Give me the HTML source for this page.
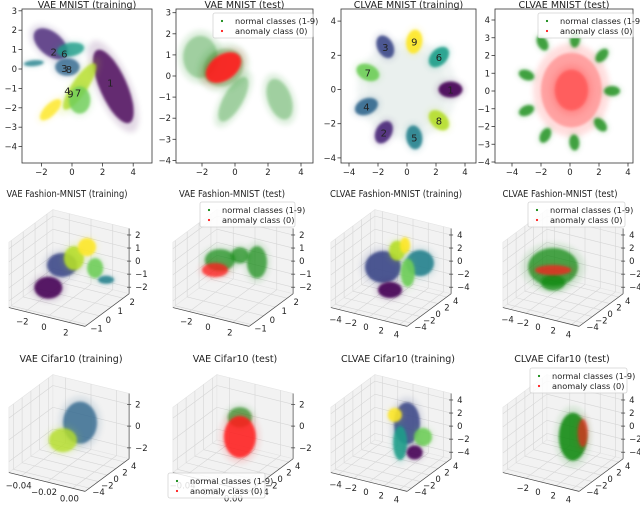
<!DOCTYPE html>
<html><head><meta charset="utf-8">
<style>
html,body{margin:0;padding:0;background:#fff;}
svg{display:block;font-family:"DejaVu Sans","Liberation Sans",sans-serif;}
</style></head>
<body>
<svg id="fig" width="640" height="510" viewBox="0 0 640 510" xmlns="http://www.w3.org/2000/svg">
<defs>
<filter id="soft" x="-50%" y="-50%" width="200%" height="200%"><feGaussianBlur stdDeviation="1.3"/></filter>
<filter id="halo" x="-80%" y="-80%" width="260%" height="260%"><feGaussianBlur stdDeviation="3"/></filter>
</defs>
</svg>
<script>
// ---------- DATA ----------
const classColors=['#440154','#482878','#3e4989','#31688e','#26828e','#1f9e89','#35b779','#6ece58','#b5de2b','#fde725'];
// Panel 1: VAE MNIST (training)
const vaeMnistTrainX=[2.7,-1.4,-0.1,-2.5,-0.3,0.5,-1.4,0.5];
const vaeMnistTrainY=[-0.9,1.3,1.0,0.3,0.1,-0.9,-2.1,-1.6];
const vaeMnistTrainClass=[0,1,5,4,3,8,9,7];
const vaeMnistTrainSpreadX=[2.6,1.3,0.9,0.65,0.8,1.8,0.9,0.7];
const vaeMnistTrainSpreadY=[0.7,0.6,0.35,0.15,0.45,0.4,0.3,0.7];
const vaeMnistTrainAngle=[66,40,-10,-5,0,-56,-45,0];
const vaeMnistLabelText=['2','6','3','8','4','9','7','1'];
const vaeMnistLabelX=[-1.2,-0.5,-0.5,-0.2,-0.3,-0.1,0.4,2.5];
const vaeMnistLabelY=[0.9,0.8,0.05,0.0,-1.1,-1.25,-1.2,-0.7];
// Panel 2: VAE MNIST (test)
const vaeMnistTestX=[-2.1,-0.1,2.7,-0.7,-0.7];
const vaeMnistTestY=[0.9,-1.1,-1.1,0.4,0.4];
const vaeMnistTestIsAnomaly=[0,0,0,0,1];
const vaeMnistTestSpreadX=[1.3,1.9,1.6,1.6,1.2];
const vaeMnistTestSpreadY=[1.0,0.45,0.55,0.85,0.6];
const vaeMnistTestAngle=[0,-60,70,-35,-35];
// Panel 3: CLVAE MNIST (training)
const clvaeMnistTrainLabel=['3','9','6','1','8','5','2','4','7'];
const clvaeMnistTrainX=[-1.5,0.5,2.2,3.0,2.2,0.5,-1.6,-2.8,-2.7];
const clvaeMnistTrainY=[2.5,2.8,1.9,0.0,-1.8,-2.8,-2.5,-1.0,1.0];
const clvaeMnistTrainClass=[2,9,5,0,8,4,1,3,7];
// Panel 4: CLVAE MNIST (test)
const clvaeMnistTestX=[-1.9,0.35,2.2,2.9,2.1,0.3,-1.7,-3.0,-3.0];
const clvaeMnistTestY=[2.7,2.9,2.0,0.0,-1.9,-2.9,-2.5,-1.1,0.9];
const clvaeMnistAnomalyX=[0.1];
const clvaeMnistAnomalyY=[0.05];
const clvaeMnistAnomalyR=[2.1];
// 3D panels
const fmnistVaeTrainX=[-1.9,-0.64,0.46,1.65,2.4,3.4];
const fmnistVaeTrainZ=[-1.9,0.1,0.85,1.94,0.49,-0.2];
const fmnistVaeTrainClass=[0,2,8,9,7,4];
const fmnistVaeTrainSize=[[14,11],[15,12],[10,12],[9,9],[8,10],[8,4]];
const fmnistVaeTestX=[-1.2,2.2,0.64,-1.65];
const fmnistVaeTestZ=[0.36,0.9,1.1,-0.5];
const fmnistVaeTestIsAnomaly=[0,0,0,1];
const fmnistVaeTestSize=[[15,11],[10,16],[9,8],[13,7]];
const fmnistClvaeTrainX=[-1.05,-0.13,0.8,1.84,3.8,2.2];
const fmnistClvaeTrainZ=[-0.15,-3.4,2.9,4.0,1.85,-0.1];
const fmnistClvaeTrainClass=[2,0,8,9,4,7];
const fmnistClvaeTrainSize=[[18,16],[12,8],[8,10],[5,8],[14,13],[7,14]];
const fmnistClvaeTestX=[-1.3,-1.3,-1.3];
const fmnistClvaeTestZ=[-0.23,-2.6,-0.7];
const fmnistClvaeTestIsAnomaly=[0,0,1];
const fmnistClvaeTestSize=[[25,19],[12,8],[18,5]];
const cifarVaeTrainX=[-0.0113,-0.0248];
const cifarVaeTrainZ=[1.2,-0.8];
const cifarVaeTrainClass=[3,8];
const cifarVaeTrainSize=[[17,21],[14,12]];
const cifarVaeTestX=[-0.0146,-0.0146];
const cifarVaeTestZ=[1.6,-0.2];
const cifarVaeTestIsAnomaly=[0,1];
const cifarVaeTestSize=[[12,10],[16,21]];
const cifarClvaeTrainX=[2.1,0.5,4.2,1.2,3.1];
const cifarClvaeTrainZ=[2.1,2.9,0.6,-1.2,-2.1];
const cifarClvaeTrainClass=[2,9,7,5,0];
const cifarClvaeTrainSize=[[13,21],[7,7],[9,9],[7,17],[8,7]];
const cifarClvaeTestX=[1.3,2.6];
const cifarClvaeTestZ=[-0.2,0.75];
const cifarClvaeTestIsAnomaly=[0,1];
const cifarClvaeTestSize=[[14,24],[5,14]];

// ---------- RENDER ----------
const NS='http://www.w3.org/2000/svg';
const svg=document.getElementById('fig');
function mk(tag,attrs,parent){const e=document.createElementNS(NS,tag);for(const k in attrs)e.setAttribute(k,attrs[k]);(parent||svg).appendChild(e);return e;}
function txt(s,x,y,size,anchor,parent){const t=mk('text',{x:x,y:y,'font-size':size,'text-anchor':anchor||'middle',fill:'#222'},parent);t.textContent=s;return t;}
const GREEN='#118811', RED='#ff1a1a';

function blob(g,sx,sy,rx,ry,rot,color,core){
  const h=mk('ellipse',{cx:sx,cy:sy,rx:rx*1.25,ry:ry*1.25,fill:color,opacity:0.15,filter:'url(#halo)',transform:`rotate(${rot} ${sx} ${sy})`},g);
  
  
  const c=mk('ellipse',{cx:sx,cy:sy,rx:rx,ry:ry,fill:color,opacity:core,filter:'url(#soft)',transform:`rotate(${rot} ${sx} ${sy})`},g);
  
  
}
function fmtTick(v,dec){let s=v.toFixed(dec||0);if(v<0)s='\u2212'+s.slice(1);return s;}

function axes2d(P,name){
  const g=mk('g',{});
  
  
  const [l,t,r,b]=P.box;
  const ttl=txt(P.title,(l+r)/2,8,9.5,'middle',g);
  
  
  const plot=mk('g',{},g);
  
  
  const fr=mk('rect',{x:l,y:t,width:r-l,height:b-t,fill:'none',stroke:'#333','stroke-width':0.8},g);
  
  
  P.yt.forEach(v=>{const y=P.y0-P.ky*v;mk('line',{x1:l-3.5,x2:l,y1:y,y2:y,stroke:'#333','stroke-width':0.8},g);
    const lb=txt(fmtTick(v),l-5,y+3,8.5,'end',g);
    
    });
  P.xt.forEach(v=>{const x=P.x0+P.kx*v;mk('line',{x1:x,x2:x,y1:b,y2:b+3.5,stroke:'#333','stroke-width':0.8},g);
    const lb=txt(fmtTick(v),x,b+12,8.5,'middle',g);
    
    });
  return plot;
}
function legend(x,y,w){
  const g=mk('g',{});
  
  
  mk('rect',{x:x,y:y,width:w,height:25,fill:'#fff',opacity:0.85,stroke:'#ccc','stroke-width':0.8,rx:2},g);
  const d1=mk('circle',{cx:x+9,cy:y+8,r:1.1,fill:GREEN},g);
  
  
  const t1=txt('normal classes (1-9)',x+22,y+11,8.2,'start',g);
  
  
  const d2=mk('circle',{cx:x+9,cy:y+18,r:1.1,fill:RED},g);
  
  
  const t2=txt('anomaly class (0)',x+22,y+21,8.2,'start',g);
  
  
}

// Panel 1
const P1={box:[22,9,152,163],x0:72,kx:15.3,y0:69,ky:19.4,xt:[-2,0,2,4],yt:[3,2,1,0,-1,-2,-3,-4],title:'VAE MNIST (training)'};
let g=axes2d(P1,'panel-vae-mnist-training');
vaeMnistTrainX.forEach((v,i)=>blob(g,P1.x0+P1.kx*v,P1.y0-P1.ky*vaeMnistTrainY[i],vaeMnistTrainSpreadX[i]*P1.kx,vaeMnistTrainSpreadY[i]*P1.ky,vaeMnistTrainAngle[i],classColors[vaeMnistTrainClass[i]],0.8));
vaeMnistLabelText.forEach((s,i)=>{const t=txt(s,P1.x0+P1.kx*vaeMnistLabelX[i],P1.y0-P1.ky*vaeMnistLabelY[i]+4,10,'middle',g);
  
  });

// Panel 2
const P2={box:[176,9,313,163],x0:235,kx:16.5,y0:76,ky:21.1,xt:[-2,0,2,4],yt:[3,2,1,0,-1,-2,-3,-4],title:'VAE MNIST (test)'};
g=axes2d(P2,'panel-vae-mnist-test');
vaeMnistTestX.forEach((v,i)=>{const an=vaeMnistTestIsAnomaly[i];blob(g,P2.x0+P2.kx*v,P2.y0-P2.ky*vaeMnistTestY[i],vaeMnistTestSpreadX[i]*P2.kx*(an?1:0.8),vaeMnistTestSpreadY[i]*P2.ky,vaeMnistTestAngle[i],an?RED:GREEN,an?0.9:0.28);});
legend(213,13,100);

// Panel 3
const P3={box:[341,9,476,163],x0:407,kx:14.5,y0:89.5,ky:17.1,xt:[-4,-2,0,2,4],yt:[4,2,0,-2,-4],title:'CLVAE MNIST (training)'};
g=axes2d(P3,'panel-clvae-mnist-training');
blob(g,P3.x0,P3.y0,40,40,0,'#9ab8b0',0.05);
clvaeMnistTrainX.forEach((v,i)=>{const sx=P3.x0+P3.kx*v,sy=P3.y0-P3.ky*clvaeMnistTrainY[i];const rot=Math.atan2(sy-P3.y0,sx-P3.x0)*180/Math.PI;
  blob(g,sx,sy,12,8,rot,classColors[clvaeMnistTrainClass[i]],0.9);
  const t=txt(clvaeMnistTrainLabel[i],sx,sy+4,10,'middle',g);
  
  });

// Panel 4
const P4={box:[495,9,633,163],x0:570,kx:14.5,y0:91,ky:17.75,xt:[-4,-2,0,2,4],yt:[4,3,2,1,0,-1,-2,-3,-4],title:'CLVAE MNIST (test)'};
g=axes2d(P4,'panel-clvae-mnist-test');
clvaeMnistAnomalyX.forEach((v,i)=>{blob(g,P4.x0+P4.kx*v,P4.y0-P4.ky*clvaeMnistAnomalyY[i],clvaeMnistAnomalyR[i]*P4.kx,clvaeMnistAnomalyR[i]*P4.ky,0,RED,0.3);
  blob(g,P4.x0+P4.kx*v,P4.y0-P4.ky*clvaeMnistAnomalyY[i],clvaeMnistAnomalyR[i]*P4.kx*0.55,clvaeMnistAnomalyR[i]*P4.ky*0.55,0,RED,0.4);});
clvaeMnistTestX.forEach((v,i)=>{const sx=P4.x0+P4.kx*v,sy=P4.y0-P4.ky*clvaeMnistTestY[i];const rot=Math.atan2(sy-P4.y0,sx-P4.x0)*180/Math.PI;
  blob(g,sx,sy,8,5,rot,GREEN,0.75);});
legend(538,13,95);

// ---------- 3D ----------
function proj(P,nx,ny,nz){return [P.cx+P.kx*(0.866*nx+0.5*ny),P.cy-P.ky*(0.866*nz-0.25*nx+0.433*ny)];}
function norm(v,lim){return 2*(v-lim[0])/(lim[1]-lim[0])-1;}
function axes3d(P,name){
  const g=mk('g',{});
  
  
  const ttl=txt(P.title,P.tx,P.ty,9.5,'middle',g);
  if(P.tw){ttl.setAttribute('textLength',P.tw);ttl.setAttribute('lengthAdjust','spacingAndGlyphs');}
  
  
  const poly=pts=>pts.map(p=>proj(P,p[0],p[1],p[2]).join(',')).join(' ');
  const panes=[[[-1,-1,-1],[-1,1,-1],[-1,1,1],[-1,-1,1]],[[-1,1,-1],[1,1,-1],[1,1,1],[-1,1,1]],[[-1,-1,-1],[1,-1,-1],[1,1,-1],[-1,1,-1]]];
  panes.forEach(p=>{const pe=mk('polygon',{points:poly(p),fill:'#f2f2f2',stroke:'#e4e4e4','stroke-width':0.6},g);
    
    });
  const line=(a,b,c,w)=>{const p=proj(P,...a),q=proj(P,...b);mk('line',{x1:p[0],y1:p[1],x2:q[0],y2:q[1],stroke:c,'stroke-width':w},g);};
  const gc='#d6d6d6';
  P.xt.forEach(v=>{const n=norm(v,P.xl);line([n,-1,-1],[n,1,-1],gc,0.6);line([n,1,-1],[n,1,1],gc,0.6);
    const p=proj(P,n,-1,-1);const t=txt(fmtTick(v,P.xdec),p[0]-3,p[1]+13,8.5,'middle',g);
    
    });
  P.yt.forEach(v=>{const n=norm(v,P.yl);line([-1,n,-1],[1,n,-1],gc,0.6);line([-1,n,-1],[-1,n,1],gc,0.6);
    const p=proj(P,1,n,-1);const t=txt(fmtTick(v),p[0]+9,p[1]+7,8.5,'middle',g);
    
    });
  P.zt.forEach(v=>{const n=norm(v,P.zl);line([-1,-1,n],[-1,1,n],gc,0.6);line([-1,1,n],[1,1,n],gc,0.6);
    const p=proj(P,1,1,n);mk('line',{x1:p[0]-2,x2:p[0]+2,y1:p[1],y2:p[1],stroke:'#333','stroke-width':0.7},g);
    const t=txt(fmtTick(v),p[0]+6,p[1]+3,8.5,'start',g);
    
    });
  line([-1,-1,-1],[1,-1,-1],'#444',0.7);
  line([1,-1,-1],[1,1,-1],'#444',0.7);
  line([1,1,-1],[1,1,1],'#444',0.7);
  const plot=mk('g',{},g);
  
  
  return plot;
}
function draw3d(P,name,X,Z,size,colorOf,op){
  const g=axes3d(P,name);
  X.forEach((v,i)=>{const p=proj(P,norm(v,P.xl),0,norm(Z[i],P.zl));blob(g,p[0],p[1],size[i][0],size[i][1],0,colorOf(i),op(i));});
}
const K={kx:44,ky:37.7};
const cols=[69,233,391,563];
draw3d({cx:cols[0],cy:268,...K,xl:[-3.5,3.5],yl:[-1.2,2.5],zl:[-2.5,2.5],xt:[-2,0,2],yt:[-1,0,1,2],zt:[-2,-1,0,1,2],title:'VAE Fashion-MNIST (training)',tx:67,ty:197,tw:121},
  'panel-vae-fmnist-training',fmnistVaeTrainX,fmnistVaeTrainZ,fmnistVaeTrainSize,i=>classColors[fmnistVaeTrainClass[i]],i=>0.88);
draw3d({cx:cols[1],cy:268,...K,xl:[-3.5,3.5],yl:[-1.2,2.5],zl:[-2.5,2.5],xt:[-2,0,2],yt:[-1,0,1,2],zt:[-2,-1,0,1,2],title:'VAE Fashion-MNIST (test)',tx:232,ty:197,tw:106},
  'panel-vae-fmnist-test',fmnistVaeTestX,fmnistVaeTestZ,fmnistVaeTestSize,i=>fmnistVaeTestIsAnomaly[i]?RED:GREEN,i=>fmnistVaeTestIsAnomaly[i]?0.75:0.65);
legend(200,202,95);
draw3d({cx:cols[2],cy:268,...K,xl:[-5,5],yl:[-5,5],zl:[-5,5],xt:[-4,-2,0,2,4],yt:[-4,-2,0,2,4],zt:[-4,-2,0,2,4],title:'CLVAE Fashion-MNIST (training)',tx:396,ty:197,tw:132},
  'panel-clvae-fmnist-training',fmnistClvaeTrainX,fmnistClvaeTrainZ,fmnistClvaeTrainSize,i=>classColors[fmnistClvaeTrainClass[i]],i=>0.9);
draw3d({cx:cols[3],cy:268,...K,xl:[-5,5],yl:[-5,5],zl:[-5,5],xt:[-4,-2,0,2,4],yt:[-4,-2,0,2,4],zt:[-4,-2,0,2,4],title:'CLVAE Fashion-MNIST (test)',tx:560,ty:197,tw:115},
  'panel-clvae-fmnist-test',fmnistClvaeTestX,fmnistClvaeTestZ,fmnistClvaeTestSize,i=>fmnistClvaeTestIsAnomaly[i]?RED:GREEN,i=>0.7);
legend(528,202,97);
draw3d({cx:cols[0],cy:433,...K,xl:[-0.05,0.01],yl:[-5,5],zl:[-3,3],xt:[-0.04,-0.02,0.00],xdec:2,yt:[-4,-2,0,2,4],zt:[-2,0,2],title:'VAE Cifar10 (training)',tx:71,ty:362},
  'panel-vae-cifar-training',cifarVaeTrainX,cifarVaeTrainZ,cifarVaeTrainSize,i=>classColors[cifarVaeTrainClass[i]],i=>0.8);
draw3d({cx:cols[1],cy:433,...K,xl:[-0.05,0.01],yl:[-5,5],zl:[-3,3],xt:[-0.04,-0.02,0.00],xdec:2,yt:[-4,-2,0,2,4],zt:[-2,0,2],title:'VAE Cifar10 (test)',tx:235,ty:362},
  'panel-vae-cifar-test',cifarVaeTestX,cifarVaeTestZ,cifarVaeTestSize,i=>cifarVaeTestIsAnomaly[i]?RED:GREEN,i=>cifarVaeTestIsAnomaly[i]?0.85:0.6);
legend(168,473,97);
draw3d({cx:cols[2],cy:433,...K,xl:[-5,5],yl:[-5,5],zl:[-5,5],xt:[-4,-2,0,2,4],yt:[-4,-2,0,2,4],zt:[-4,-2,0,2,4],title:'CLVAE Cifar10 (training)',tx:398,ty:362},
  'panel-clvae-cifar-training',cifarClvaeTrainX,cifarClvaeTrainZ,cifarClvaeTrainSize,i=>classColors[cifarClvaeTrainClass[i]],i=>0.88);
draw3d({cx:cols[3],cy:433,...K,xl:[-5,5],yl:[-5,5],zl:[-5,5],xt:[-2,0,2,4],yt:[-4,-2,0,2,4],zt:[-4,-2,0,2,4],title:'CLVAE Cifar10 (test)',tx:562,ty:362},
  'panel-clvae-cifar-test',cifarClvaeTestX,cifarClvaeTestZ,cifarClvaeTestSize,i=>cifarClvaeTestIsAnomaly[i]?RED:GREEN,i=>cifarClvaeTestIsAnomaly[i]?0.6:0.85);
legend(530,368,97);
</script>
</body></html>
